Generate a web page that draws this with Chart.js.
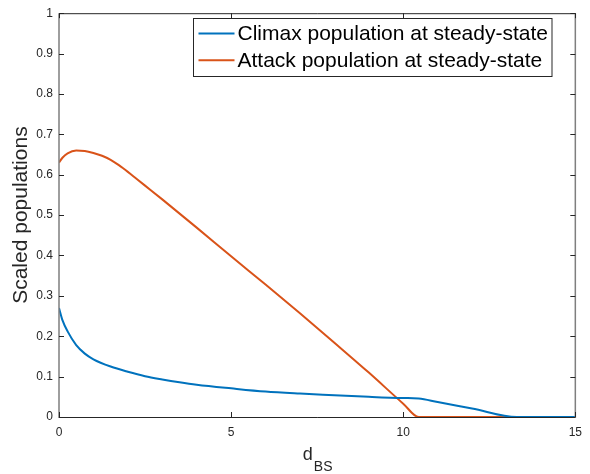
<!DOCTYPE html>
<html>
<head>
<meta charset="utf-8">
<script src="https://cdn.jsdelivr.net/npm/chart.js@4.4.1/dist/chart.umd.min.js"></script>
<style>
  html, body { margin: 0; padding: 0; background: #fff; }
  #wrap { width: 590px; height: 474px; }
</style>
</head>
<body>
<div id="wrap"><canvas id="chart" width="590" height="474"></canvas></div>
<script>
// Values
const climaxX = [0, 0.1, 0.25, 0.5, 0.75, 1, 1.5, 2, 2.5, 3, 3.5, 4, 5, 6, 7, 8, 9, 10, 10.45, 11, 12, 13.3, 14, 15];
const climaxY = [0.27, 0.24, 0.212, 0.178, 0.157, 0.143, 0.125, 0.112, 0.101, 0.093, 0.086, 0.080, 0.071, 0.063, 0.058, 0.054, 0.050, 0.047, 0.046, 0.037, 0.021, 0, 0, 0];
const attackX = [0, 0.1, 0.25, 0.5, 0.75, 1, 1.25, 1.5, 1.75, 2, 2.25, 2.5, 3, 4, 5, 6, 7, 8, 9, 10, 10.45, 11, 12, 13, 14, 15];
const attackY = [0.63, 0.642, 0.653, 0.66, 0.659, 0.654, 0.647, 0.637, 0.623, 0.607, 0.590, 0.573, 0.539, 0.469, 0.398, 0.328, 0.257, 0.184, 0.110, 0.033, 0, 0, 0, 0, 0, 0];
const seriesLabels = ['Climax population at steady-state', 'Attack population at steady-state'];
const xTicks = [0, 5, 10, 15];
const yTicks = [0, 0.1, 0.2, 0.3, 0.4, 0.5, 0.6, 0.7, 0.8, 0.9, 1];

const FONT = "'Liberation Sans', Arial, Helvetica, sans-serif";
const AXIS = '#262626';

function toPoints(xs, ys) {
    return xs.map((x, i) => ({ x: x, y: ys[i] }));
}

// Box, inward ticks, x title with subscript, and the boxed legend
const matlabLook = {
    id: 'matlabLook',
    afterDraw(chart) {
        const ctx = chart.ctx;
        const { left, right, top, bottom } = chart.chartArea;
        const sx = chart.scales.x, sy = chart.scales.y;
        ctx.save();

        // frame
        ctx.strokeStyle = AXIS;
        ctx.lineWidth = 1;
        ctx.beginPath();
        ctx.moveTo(left, bottom + 0.5); ctx.lineTo(right, bottom + 0.5);
        ctx.moveTo(left, top + 0.5); ctx.lineTo(right, top + 0.5);
        ctx.stroke();
        ctx.strokeStyle = '#7f7f7f';
        ctx.lineWidth = 1.5;
        ctx.beginPath();
        ctx.moveTo(left, top); ctx.lineTo(left, bottom + 1);
        ctx.moveTo(right, top); ctx.lineTo(right, bottom + 1);
        ctx.stroke();

        // inward ticks
        ctx.strokeStyle = AXIS;
        ctx.lineWidth = 1;
        ctx.beginPath();
        xTicks.forEach(v => {
            const px = Math.round(sx.getPixelForValue(v)) + 0.5;
            ctx.moveTo(px, bottom); ctx.lineTo(px, bottom - 5);
            ctx.moveTo(px, top); ctx.lineTo(px, top + 5);
        });
        yTicks.forEach(v => {
            const py = Math.round(sy.getPixelForValue(v)) + 0.5;
            ctx.moveTo(left, py); ctx.lineTo(left + 5, py);
            ctx.moveTo(right, py); ctx.lineTo(right - 5, py);
        });
        ctx.stroke();

        // x title: d with subscript BS
        ctx.fillStyle = AXIS;
        ctx.textBaseline = 'alphabetic';
        ctx.textAlign = 'left';
        ctx.font = '18px ' + FONT;
        const dW = ctx.measureText('d').width;
        ctx.font = '14px ' + FONT;
        const bsW = ctx.measureText('BS').width;
        const startX = (left + right) / 2 - (dW + bsW) / 2;
        ctx.font = '18px ' + FONT;
        ctx.fillText('d', startX, 459.5);
        ctx.font = '14px ' + FONT;
        ctx.fillText('BS', startX + dW + 1, 470.5);

        // legend
        ctx.font = '21px ' + FONT;
        const ds = chart.data.datasets;
        let maxW = 0;
        ds.forEach(d => { maxW = Math.max(maxW, ctx.measureText(d.label).width); });
        const lineLen = 36, gap = 3, padL = 5, padR = 4;
        const boxW = padL + lineLen + gap + maxW + padR;
        const boxX = Math.round(right - 24 - boxW) + 0.5;
        const boxY = 18.5, rowH = 26.7, boxH = 58;
        ctx.fillStyle = '#fff';
        ctx.fillRect(boxX, boxY, boxW, boxH);
        ctx.strokeStyle = AXIS;
        ctx.lineWidth = 1;
        ctx.strokeRect(boxX, boxY, boxW, boxH);
        ds.forEach((d, i) => {
            const cy = 33.5 + i * rowH;
            ctx.strokeStyle = d.borderColor;
            ctx.lineWidth = 2;
            ctx.beginPath();
            ctx.moveTo(boxX + padL, cy); ctx.lineTo(boxX + padL + lineLen, cy);
            ctx.stroke();
            ctx.fillStyle = '#000';
            ctx.textBaseline = 'middle';
            ctx.fillText(d.label, boxX + padL + lineLen + gap, cy + 1);
        });
        ctx.restore();
    }
};

new Chart(document.getElementById('chart').getContext('2d'), {
    type: 'line',
    data: {
        datasets: [{
            label: seriesLabels[0],
            data: toPoints(climaxX, climaxY),
            borderColor: '#0072BD',
            backgroundColor: '#0072BD',
            borderWidth: 2,
            pointRadius: 0,
            cubicInterpolationMode: 'monotone'
        }, {
            label: seriesLabels[1],
            data: toPoints(attackX, attackY),
            borderColor: '#D95319',
            backgroundColor: '#D95319',
            borderWidth: 2,
            pointRadius: 0,
            cubicInterpolationMode: 'monotone'
        }]
    },
    options: {
        responsive: false,
        animation: false,
        layout: { padding: { top: 8, right: 11, left: 0, bottom: 0 } },
        plugins: {
            legend: { display: false },
            tooltip: { enabled: false }
        },
        scales: {
            x: {
                type: 'linear',
                min: 0,
                max: 15,
                afterBuildTicks: s => { s.ticks = xTicks.map(v => ({ value: v })); },
                afterFit: s => { s.height = 57; },
                grid: { display: false, drawTicks: false },
                border: { display: false },
                ticks: { color: AXIS, font: { family: FONT, size: 12 }, padding: 8, maxRotation: 0,
                         callback: v => String(v) }
            },
            y: {
                type: 'linear',
                min: 0,
                max: 1,
                afterBuildTicks: s => { s.ticks = yTicks.map(v => ({ value: v })); },
                afterFit: s => { s.width = 59; },
                grid: { display: false, drawTicks: false },
                border: { display: false },
                ticks: { color: AXIS, font: { family: FONT, size: 12 }, padding: 6,
                         callback: v => String(v) },
                title: {
                    display: true,
                    text: 'Scaled populations',
                    color: AXIS,
                    font: { family: FONT, size: 21 },
                    padding: { top: 9, bottom: 0 }
                }
            }
        }
    },
    plugins: [matlabLook]
});
</script>
</body>
</html>
